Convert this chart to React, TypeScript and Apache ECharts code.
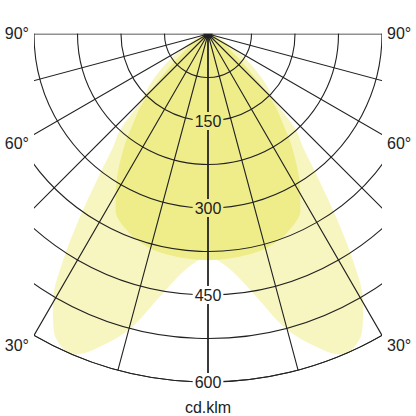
import React, { useEffect, useRef } from 'react'
import * as echarts from 'echarts'

// angles from nadir (deg), symmetric distribution, values in cd/klm
const ANGLES = [0, 5, 10, 15, 20, 22.5, 25, 27.5, 30, 32.5, 35, 37.5, 40, 42.5, 45, 50, 55, 60, 65, 70, 75, 80, 85, 90]
const OUTER_CD = [385, 405, 455, 528, 580, 598, 596, 576, 535, 468, 385, 310, 255, 225, 165, 125, 88, 55, 32, 18, 10, 5, 2, 0]
const INNER_CD = [390, 389, 387, 383, 374, 366, 358, 345, 318, 292, 262, 232, 200, 175, 145, 80, 45, 30, 20, 12, 7, 4, 2, 0]

const RADIUS_LABELS = [150, 300, 450, 600]
const SIDE_LABELS = [
  { text: '90°', y: 33 },
  { text: '60°', y: 143 },
  { text: '30°', y: 345 },
]
const UNIT = 'cd.klm'

const CX = 208
const CY = 34
const R = 348
const PALE = '#f8f6c0'
const BRIGHT = '#efed8a'
const LINE = '#222'
const FONT = '"Liberation Sans", Arial, sans-serif'

// left side goes clockwise (angle a), right side mirrored (360 - a)
function polarCurve(values: number[]) {
  const left = ANGLES.map((a, i) => [values[i], a]).reverse()
  const right = ANGLES.slice(1).map((a, i) => [values[i + 1], 360 - a])
  return [...left, ...right]
}

export default function App() {
  const chartRef = useRef<HTMLDivElement>(null)

  useEffect(() => {
    if (!chartRef.current) return
    const chart = echarts.init(chartRef.current, null, { renderer: 'svg' })

    const sideText = (side: 'left' | 'right') =>
      SIDE_LABELS.map(l => ({
        type: 'text',
        z: 60,
        x: side === 'left' ? CX - R / 2 - 5 : CX + R / 2 + 5,
        y: l.y,
        style: {
          text: l.text,
          fill: LINE,
          font: `16px ${FONT}`,
          textAlign: side === 'left' ? 'right' : 'left',
          textVerticalAlign: 'middle',
        },
      }))

    const option: echarts.EChartsOption = {
      animation: false,
      textStyle: { fontFamily: FONT },
      polar: { center: [CX, CY], radius: R },
      angleAxis: {
        type: 'value',
        min: 0,
        max: 360,
        interval: 15,
        startAngle: 270,
        clockwise: true,
        z: 10,
        axisLine: { show: true, lineStyle: { color: LINE, width: 1.1 } },
        axisTick: { show: false },
        axisLabel: { show: false },
        splitLine: { show: true, lineStyle: { color: LINE, width: 1.1 } },
      },
      radiusAxis: {
        type: 'value',
        min: 0,
        max: 600,
        interval: 75,
        z: 11,
        name: UNIT,
        nameLocation: 'end',
        nameGap: 25,
        nameTextStyle: { color: LINE, fontSize: 16, align: 'center', verticalAlign: 'middle' },
        axisLine: { show: true, lineStyle: { color: LINE, width: 1.5 } },
        axisTick: { show: false },
        splitLine: { show: true, lineStyle: { color: LINE, width: 1.1 } },
        axisLabel: {
          show: true,
          margin: 0,
          align: 'center',
          verticalAlign: 'middle',
          formatter: (v: number) => {
            if (!RADIUS_LABELS.includes(v)) return ''
            return v < INNER_CD[0] ? `{y|${v}}` : `{w|${v}}`
          },
          rich: {
            y: { backgroundColor: BRIGHT, color: LINE, fontSize: 16, padding: [1, 2] },
            w: { backgroundColor: '#fff', color: LINE, fontSize: 16, padding: [1, 2] },
          },
        },
      },
      series: [
        {
          type: 'line',
          coordinateSystem: 'polar',
          data: polarCurve(OUTER_CD),
          showSymbol: false,
          smooth: 0.35,
          lineStyle: { width: 0 },
          areaStyle: { color: PALE, opacity: 1 },
          z: 1,
        },
        {
          type: 'line',
          coordinateSystem: 'polar',
          data: polarCurve(INNER_CD),
          showSymbol: false,
          smooth: 0.3,
          lineStyle: { width: 0 },
          areaStyle: { color: BRIGHT, opacity: 1 },
          z: 2,
        },
      ],
      graphic: [
        // clip the polar grid to the lower half and to the width of the 30° spokes
        { type: 'rect', z: 50, shape: { x: 0, y: 0, width: 416, height: CY - 0.6 }, style: { fill: '#fff' } },
        { type: 'rect', z: 50, shape: { x: 0, y: 0, width: CX - R / 2, height: 416 }, style: { fill: '#fff' } },
        { type: 'rect', z: 50, shape: { x: CX + R / 2, y: 0, width: 416, height: 416 }, style: { fill: '#fff' } },
        ...sideText('left'),
        ...sideText('right'),
      ] as any,
    }

    chart.setOption(option)
    return () => chart.dispose()
  }, [])

  return (
    <div
      ref={chartRef}
      style={{ position: 'fixed', left: 0, top: 0, width: 416, height: 416, background: '#fff' }}
    />
  )
}
